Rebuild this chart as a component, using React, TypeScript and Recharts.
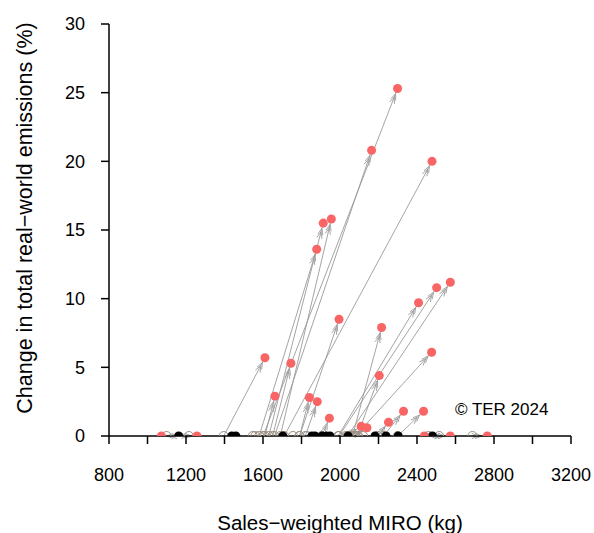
import { Label, ReferenceDot, ReferenceLine, Scatter, ScatterChart, XAxis, YAxis, ZAxis } from 'recharts';

// arrows: baseline MIRO (hollow) -> new MIRO (red) with change in emissions (%)
const arrowFrom = [1396, 1610, 1650, 1580, 1630, 1690, 1660, 1600, 1710, 1790, 2065, 2090, 1990, 1995, 2040, 2080, 1905, 2225, 2300, 2195, 2030, 2068, 1790, 1820, 1099, 1215, 2460, 2515, 2688];
const arrowTo = [1610, 1662, 1745, 1879, 1913, 1955, 2164, 2299, 2478, 1995, 2216, 2204, 2408, 2502, 2573, 2476, 1945, 2330, 2434, 2252, 2110, 2140, 1841, 1882, 1072, 1257, 2438, 2573, 2765];
const arrowChange = [5.7, 2.9, 5.3, 13.6, 15.5, 15.8, 20.8, 25.3, 20.0, 8.5, 7.9, 4.4, 9.7, 10.8, 11.2, 6.1, 1.3, 1.8, 1.8, 1.0, 0.7, 0.6, 2.8, 2.5, 0, 0, 0, 0, 0];

// other baseline positions without arrows
const hollowOnly = [1547, 1560, 1756, 1829, 2094, 2120];
const blackMiro = [1162, 1438, 1459, 1703, 1854, 1870, 1907, 1930, 1948, 2042, 2182, 2239, 2302, 2480];

const xTicks = [800, 1000, 1200, 1400, 1600, 1800, 2000, 2200, 2400, 2600, 2800, 3000, 3200];
const yTicks = [0, 5, 10, 15, 20, 25, 30];

const FONT = '"Liberation Sans", Arial, sans-serif';

const redData = arrowTo.map((x, i) => ({ x, y: arrowChange[i] }));
const hollowData = [...arrowFrom, ...hollowOnly].map((x) => ({ x, y: 0 }));
const blackData = blackMiro.map((x) => ({ x, y: 0 }));

function Arrow(props: any) {
  const { x1, y1, x2, y2 } = props;
  if ([x1, y1, x2, y2].some((v) => v == null || Number.isNaN(v))) return null;
  const dx = x2 - x1;
  const dy = y2 - y1;
  const len = Math.hypot(dx, dy) || 1;
  const ux = dx / len;
  const uy = dy / len;
  const a = (22 * Math.PI) / 180;
  const heads = [5.5, 9].map((off) => {
    const tx = x2 - ux * off;
    const ty = y2 - uy * off;
    const arm = (s: number) => {
      const bx = -ux * Math.cos(a) + s * uy * Math.sin(a);
      const by = -uy * Math.cos(a) - s * ux * Math.sin(a);
      return `${tx + bx * 7},${ty + by * 7}`;
    };
    return `M${arm(1)} L${tx},${ty} L${arm(-1)}`;
  });
  return (
    <g>
      <line x1={x1} y1={y1} x2={x2} y2={y2} stroke="#9a9a9a" strokeWidth={0.9} />
      {heads.map((d, i) => (
        <path key={i} d={d} fill="none" stroke="#9a9a9a" strokeWidth={0.9} />
      ))}
    </g>
  );
}

const xTickFmt = (v: number) => (v % 400 === 0 ? String(v) : '');

export default function App() {
  // pinned to the page corner so it fills the window without scrollbars
  return (
    <div style={{ position: 'absolute', left: 0, top: 0, width: 594, height: 533 }}>
      <ScatterChart width={594} height={533} margin={{ top: 24, right: 23, left: 8, bottom: 0 }}>
        <XAxis
          type="number"
          dataKey="x"
          domain={[800, 3200]}
          ticks={xTicks}
          tickFormatter={xTickFmt}
          interval={0}
          height={97}
          tickSize={8}
          tickMargin={24}
          stroke="#000"
          strokeWidth={1.5}
          tick={{ fill: '#000', fontSize: 18, fontFamily: FONT }}
          allowDataOverflow
        >
          <Label
            content={({ viewBox }: any) => (
              <text
                x={viewBox.x + viewBox.width / 2}
                y={viewBox.y + 86}
                textAnchor="middle"
                dominantBaseline="central"
                fontSize={20.5}
                fontFamily={FONT}
                fill="#000"
              >
                Sales−weighted MIRO (kg)
              </text>
            )}
          />
        </XAxis>
        <YAxis
          type="number"
          dataKey="y"
          domain={[0, 30]}
          ticks={yTicks}
          interval={0}
          width={101}
          tickSize={8}
          tickMargin={16}
          stroke="#000"
          strokeWidth={1.5}
          tick={{ fill: '#000', fontSize: 18, fontFamily: FONT }}
          allowDataOverflow
        >
          <Label
            content={({ viewBox }: any) => {
              const cx = viewBox.x + 17;
              const cy = viewBox.y + viewBox.height / 2 - 12;
              return (
                <text
                  x={cx}
                  y={cy}
                  transform={`rotate(-90 ${cx} ${cy})`}
                  textAnchor="middle"
                  dominantBaseline="central"
                  fontSize={21.5}
                  fontFamily={FONT}
                  fill="#000"
                >
                  Change in total real−world emissions (%)
                </text>
              );
            }}
          />
        </YAxis>
        <ZAxis range={[95, 95]} />
        {arrowFrom.map((from, i) => (
          <ReferenceLine
            key={i}
            segment={[
              { x: from, y: 0 },
              { x: arrowTo[i], y: arrowChange[i] },
            ]}
            ifOverflow="visible"
            shape={(p: any) => <Arrow {...p} />}
          />
        ))}
        <Scatter data={hollowData} fill="none" stroke="#9b8f80" strokeWidth={1} shape="circle" isAnimationActive={false} />
        <Scatter data={blackData} fill="#000" shape="circle" isAnimationActive={false} />
        <Scatter data={redData} fill="#f96565" shape="circle" isAnimationActive={false} />
        <ReferenceDot
          x={2840}
          y={2}
          r={0}
          fill="none"
          stroke="none"
          ifOverflow="visible"
          label={{ value: '© TER 2024', position: 'center', fill: '#000', fontSize: 17, fontFamily: FONT }}
        />
      </ScatterChart>
    </div>
  );
}
